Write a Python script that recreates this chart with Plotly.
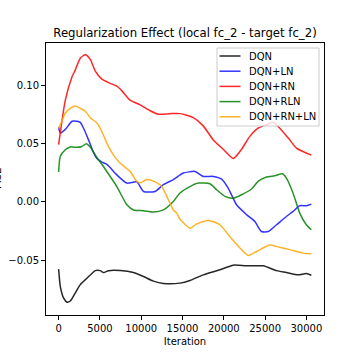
import plotly.graph_objects as go

# ---- data ----
dqn_x = [0, 205, 610, 1010, 1410, 2020, 2620, 3430, 4440, 5040, 5440, 6040, 7450, 9060, 10270,
         11480, 12680, 14700, 15900, 17510, 19530, 21140, 22750, 24760, 26380, 27580, 28990, 29990, 30600]
dqn_y = [-0.0577, -0.0726, -0.0826, -0.086, -0.085, -0.078, -0.071, -0.0655, -0.059, -0.059, -0.0606,
         -0.059, -0.0589, -0.0606, -0.064, -0.068, -0.070, -0.0697, -0.0675, -0.0626, -0.0583, -0.0543,
         -0.0549, -0.0549, -0.059, -0.0606, -0.0626, -0.0615, -0.063]

ln_x = [0, 205, 810, 1620, 2220, 2620, 3020, 3620, 4230, 4640, 5240, 5850, 7050, 8260, 9470, 10270,
        11680, 12680, 13890, 14700, 15100, 16510, 17510, 18720, 19730, 20530, 21540, 22750, 23760,
        24570, 25370, 26380, 27580, 28380, 29190, 29990, 30600]
ln_y = [0.064, 0.059, 0.062, 0.069, 0.069, 0.068, 0.063, 0.053, 0.042, 0.037, 0.034, 0.032, 0.023,
        0.016, 0.017, 0.0088, 0.0088, 0.0146, 0.019, 0.023, 0.0246, 0.026, 0.0217, 0.0217, 0.0194,
        0.0117, -0.0026, -0.011, -0.017, -0.0255, -0.0255, -0.0197, -0.0126, -0.0083, -0.0034,
        -0.0034, -0.002]

rn_x = [0, 810, 1620, 2020, 2620, 3230, 3830, 4440, 5240, 6040, 7050, 7660, 8660, 9870, 11080, 12080,
        13490, 14700, 16300, 17510, 18720, 19930, 21140, 22150, 23150, 24150, 25170, 25970, 26780,
        27990, 28790, 30600]
rn_y = [0.049, 0.087, 0.107, 0.113, 0.123, 0.126, 0.122, 0.112, 0.105, 0.102, 0.099, 0.095, 0.087,
        0.083, 0.078, 0.075, 0.0755, 0.0755, 0.072, 0.065, 0.053, 0.045, 0.037, 0.045, 0.056, 0.063,
        0.066, 0.068, 0.063, 0.053, 0.046, 0.040]

rln_x = [0, 205, 810, 1410, 2220, 2820, 3350, 3830, 4440, 5040, 5440, 7050, 8260, 9060, 10270, 11480,
         12680, 13890, 14700, 15900, 16910, 18320, 19130, 20140, 21140, 22150, 23350, 24150, 25170,
         26170, 27100, 27580, 28380, 29190, 29990, 30600]
rln_y = [0.0255, 0.039, 0.0446, 0.047, 0.0466, 0.0474, 0.0497, 0.047, 0.040, 0.034, 0.030, 0.013,
         -0.0026, -0.007, -0.0077, -0.0088, -0.007, 0.0003, 0.0075, 0.013, 0.016, 0.0154, 0.0103,
         0.0046, 0.0031, 0.006, 0.0109, 0.0174, 0.0212, 0.0223, 0.024, 0.0203, 0.0075, -0.0097,
         -0.0197, -0.024]

rnln_x = [0, 205, 810, 1410, 2020, 2620, 3230, 3830, 4640, 5240, 5850, 6240, 6640, 7450, 8660, 9470,
          9870, 10680, 11680, 12490, 13290, 13890, 14300, 14700, 15100, 15900, 16720, 18120, 19530,
          20740, 21740, 22950, 23960, 25570, 26780, 27990, 29590, 30600]
rnln_y = [0.063, 0.066, 0.076, 0.080, 0.082, 0.080, 0.0775, 0.072, 0.0675, 0.060, 0.050, 0.0446,
          0.040, 0.033, 0.026, 0.0174, 0.016, 0.019, 0.017, 0.013, 0.0017, -0.007, -0.0097, -0.015,
          -0.018, -0.0226, -0.019, -0.016, -0.0197, -0.030, -0.038, -0.046, -0.0426, -0.037, -0.039,
          -0.041, -0.044, -0.0446]

series_names = ["DQN", "DQN+LN", "DQN+RN", "DQN+RLN", "DQN+RN+LN"]
series_x = [dqn_x, ln_x, rn_x, rln_x, rnln_x]
series_y = [dqn_y, ln_y, rn_y, rln_y, rnln_y]
series_colors = ["rgba(0,0,0,0.85)", "rgba(0,0,255,0.8)", "rgba(255,0,0,0.85)",
                 "rgba(0,128,0,0.85)", "rgba(255,165,0,0.85)"]

x_ticks = [0, 5000, 10000, 15000, 20000, 25000, 30000]
y_ticks = [-0.05, 0.0, 0.05, 0.10]

FONT = "DejaVu Sans"
W, H = 360, 360
ML, MR, MT, MB = 46, 36, 43, 45
PW, PH = W - ML - MR, H - MT - MB

fig = go.Figure()
for name, xs, ys, col in zip(series_names, series_x, series_y, series_colors):
    fig.add_trace(go.Scatter(x=xs, y=ys, mode="lines", name=name,
                             line=dict(color=col, width=1.5, shape="spline", smoothing=0.6),
                             showlegend=False))

def px_x(p):
    return (p - ML) / PW

def px_y(p):
    return (H - MB - p) / PH

# custom legend (matplotlib-style)
shapes = [dict(type="rect", xref="paper", yref="paper",
               x0=px_x(217), x1=px_x(319), y0=px_y(126), y1=px_y(48),
               line=dict(color="rgba(204,204,204,1)", width=1),
               fillcolor="rgba(255,255,255,0.8)", layer="above")]
annotations = []
for i, (name, col) in enumerate(zip(series_names, series_colors)):
    yy = 56 + i * 15.2
    shapes.append(dict(type="line", xref="paper", yref="paper",
                       x0=px_x(219.5), x1=px_x(240.5), y0=px_y(yy), y1=px_y(yy),
                       line=dict(color=col, width=1.5), layer="above"))
    annotations.append(dict(text=name, xref="paper", yref="paper", x=px_x(247), y=px_y(yy),
                            xanchor="left", yanchor="middle", showarrow=False,
                            font=dict(family=FONT, size=10, color="black")))

annotations.append(dict(text="MSE", xref="paper", yref="paper", x=px_x(-3), y=0.5,
                        textangle=-90, xanchor="center", yanchor="middle", showarrow=False,
                        font=dict(family=FONT, size=10, color="black")))

fig.update_layout(
    width=W, height=H,
    margin=dict(l=ML, r=MR, t=MT, b=MB, autoexpand=False),
    paper_bgcolor="white", plot_bgcolor="white",
    font=dict(family=FONT, size=10, color="black"),
    title=dict(text="Regularization Effect (local fc_2 - target fc_2)",
               x=(ML + PW / 2) / W, xanchor="center", y=1 - 33 / H, yanchor="middle",
               font=dict(family=FONT, size=11.7, color="black")),
    shapes=shapes, annotations=annotations,
    xaxis=dict(range=[-1530, 32130], tickvals=x_ticks, tickformat="d",
               showgrid=False, zeroline=False, showline=True, linecolor="black", linewidth=1,
               mirror=True, ticks="outside", ticklen=4, tickcolor="black",
               title=dict(text="Iteration", font=dict(family=FONT, size=10), standoff=4)),
    yaxis=dict(range=[-0.097, 0.136], tickvals=y_ticks, tickformat=".2f",
               showgrid=False, zeroline=False, showline=True, linecolor="black", linewidth=1,
               mirror=True, ticks="outside", ticklen=4, tickcolor="black"),
)

fig.write_html("out.html", config={"displayModeBar": False},
               post_script="document.body.style.margin='0';document.body.style.overflow='hidden';")
